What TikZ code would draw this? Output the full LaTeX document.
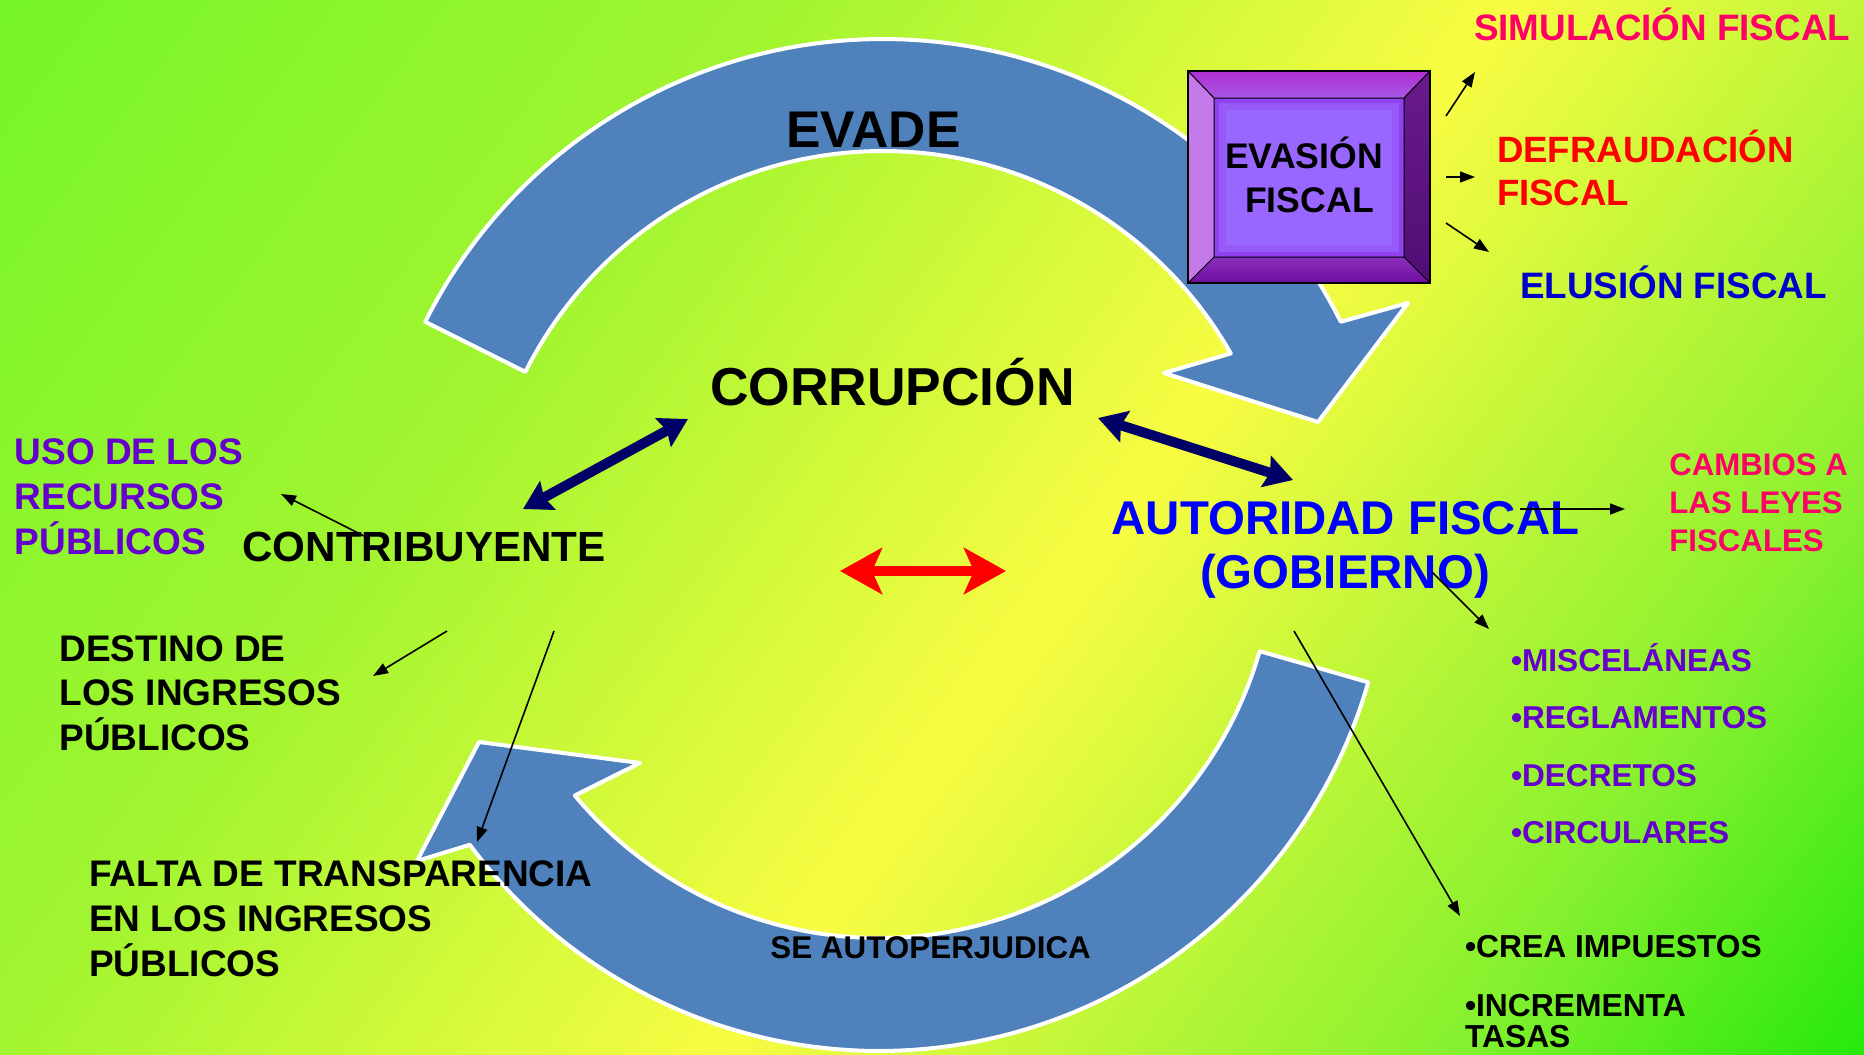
\documentclass[tikz,border=0pt]{standalone}
\usepackage{fontspec}
\setmainfont{Liberation Sans}
\usetikzlibrary{arrows.meta}
\definecolor{bgA}{RGB}{118,245,42}
\definecolor{bgB}{RGB}{162,245,48}
\definecolor{bgC}{RGB}{248,252,66}
\definecolor{bgD}{RGB}{130,240,46}
\definecolor{bgE}{RGB}{34,232,10}
\definecolor{arrowblue}{RGB}{79,129,189}
\definecolor{navy}{RGB}{0,0,102}
\definecolor{pinkred}{RGB}{255,0,102}
\definecolor{elublue}{RGB}{0,0,204}
\definecolor{autblue}{RGB}{0,0,255}
\definecolor{purp}{RGB}{102,0,204}
\definecolor{bvtopA}{RGB}{178,46,212}
\definecolor{bvtopB}{RGB}{166,88,230}
\definecolor{bvleft}{RGB}{196,122,232}
\definecolor{bvrightA}{RGB}{106,26,140}
\definecolor{bvrightB}{RGB}{80,14,116}
\definecolor{bvbotA}{RGB}{138,48,186}
\definecolor{bvbotB}{RGB}{110,14,160}
\definecolor{inEdge}{RGB}{144,64,238}
\definecolor{inMid}{RGB}{149,90,247}
\definecolor{inCen}{RGB}{153,102,255}
\newcommand\myfs[1]{\fontsize{#1pt}{#1pt}\selectfont\bfseries}
\begin{document}
\begin{tikzpicture}[x=0.5pt,y=-0.5pt,
  txt/.style={inner sep=0pt, outer sep=0pt, anchor=base west},
  bigarrow/.style={fill=arrowblue, draw=white, line width=2pt, line join=round},
  thin/.style={draw=black, line width=0.8pt, -{Triangle[length=7.5pt,width=5.5pt]}},
  navyarrow/.style={draw=navy, line width=5pt, {Stealth[length=14pt,width=16pt,inset=2pt]}-{Stealth[length=14pt,width=16pt,inset=2pt]}},
  redarrow/.style={draw=red, line width=5pt, {Stealth[length=21pt,width=23pt,inset=5pt]}-{Stealth[length=21pt,width=23pt,inset=5pt]}}]
\useasboundingbox (0,0) rectangle (1864,1055);
% background gradient
\begin{scope}
\clip (0,0) rectangle (1864,1055);
\begin{scope}[rotate=-36.9]
\foreach \s in {0,6,...,630}{\pgfmathtruncatemacro\p{\s/630*100}\fill[bgB!\p!bgA] (\s,-3000) rectangle (\s+7,3000);}
\foreach \s in {630,636,...,1200}{\pgfmathtruncatemacro\p{(\s-630)/570*100}\fill[bgC!\p!bgB] (\s,-3000) rectangle (\s+7,3000);}
\foreach \s in {1200,1206,...,1800}{\pgfmathtruncatemacro\p{(\s-1200)/600*100}\fill[bgD!\p!bgC] (\s,-3000) rectangle (\s+7,3000);}
\foreach \s in {1800,1806,...,2136}{\pgfmathtruncatemacro\p{min(100,(\s-1800)/330*100)}\fill[bgE!\p!bgD] (\s,-3000) rectangle (\s+7,3000);}
\end{scope}
\end{scope}
% top curved arrow (EVADE): circular band, centre (883,551)
\path[bigarrow] plot[domain=206.6:333.4, samples=90] ({883+512*cos(\x)},{551+512*sin(\x)})
  -- (1408,303) -- (1318,422) -- (1164,373)
  -- plot[domain=330.4:206.6, samples=90] ({883+400*cos(\x)},{551+400*sin(\x)}) -- cycle;
% bottom curved arrow (SE AUTOPERJUDICA): circular band, centre (879,542)
\path[bigarrow] ({879+509*cos(16)},{542+509*sin(16)})
  -- plot[domain=16:140.2, samples=90] ({879+396*cos(\x)},{542+396*sin(\x)})
  -- (640,763) -- (479,742) -- (417,861)
  -- plot[domain=143.5:16, samples=90] ({879+509*cos(\x)},{542+509*sin(\x)}) -- cycle;
% bevelled box
\shade[top color=bvtopA, bottom color=bvtopB] (1188,71) -- (1430,71) -- (1404,98) -- (1214,98) -- cycle;
\fill[bvleft] (1188,71) -- (1214,98) -- (1214,257) -- (1188,283) -- cycle;
\shade[top color=bvrightA, bottom color=bvrightB] (1430,71) -- (1404,98) -- (1404,257) -- (1430,283) -- cycle;
\shade[top color=bvbotA, bottom color=bvbotB] (1188,283) -- (1214,257) -- (1404,257) -- (1430,283) -- cycle;
\fill[inEdge] (1214,98) rectangle (1404,257);
\fill[inMid] (1219,103) rectangle (1399,252);
\fill[inCen] (1226,110) rectangle (1392,245);
\draw[line width=0.5pt] (1214,98) rectangle (1404,257)
  (1188,71) -- (1214,98) (1430,71) -- (1404,98) (1188,283) -- (1214,257) (1430,283) -- (1404,257);
\draw[line width=1pt] (1188,71) rectangle (1430,283);
% texts
\node[txt, anchor=base, font=\myfs{17.8}] (ev1) at (1304,168.3) {EVASIÓN};
\node[txt, anchor=base, font=\myfs{17.8}] (ev2) at (1309.5,212) {FISCAL};
\node[txt, font=\myfs{25.8}] (evade) at (786.5,147.3) {EVADE};
\node[txt, font=\myfs{26.7}] (corr) at (710,405) {CORRUPCIÓN};
\node[txt, font=\myfs{21.1}] (contrib) at (242.4,561) {CONTRIBUYENTE};
\node[txt, anchor=base, font=\myfs{23.7}, text=autblue] (aut1) at (1345.5,534.5) {AUTORIDAD FISCAL};
\node[txt, anchor=base, font=\myfs{23.7}, text=autblue] (aut2) at (1345,588) {(GOBIERNO)};
\node[txt, font=\myfs{15.7}] (seauto) at (770.4,958.3) {SE AUTOPERJUDICA};
\node[txt, font=\myfs{18.5}, text=purp] (uso1) at (14.7,464.3) {USO DE LOS};
\node[txt, font=\myfs{18.5}, text=purp] (uso2) at (14.7,509.3) {RECURSOS};
\node[txt, font=\myfs{18.5}, text=purp] (uso3) at (14.7,554) {PÚBLICOS};
\node[txt, font=\myfs{18.5}] (des1) at (59.4,661.7) {DESTINO DE};
\node[txt, font=\myfs{18.5}] (des2) at (59.4,705) {LOS INGRESOS};
\node[txt, font=\myfs{18.5}] (des3) at (59.4,750.7) {PÚBLICOS};
\node[txt, font=\myfs{18.5}] (fal1) at (89,886.7) {FALTA DE TRANSPARENCIA};
\node[txt, font=\myfs{18.5}] (fal2) at (89,931.7) {EN LOS INGRESOS};
\node[txt, font=\myfs{18.5}] (fal3) at (89,976.7) {PÚBLICOS};
\node[txt, font=\myfs{15.6}, text=pinkred] (cam1) at (1669.4,475.2) {CAMBIOS A};
\node[txt, font=\myfs{15.6}, text=pinkred] (cam2) at (1669.4,513.6) {LAS LEYES};
\node[txt, font=\myfs{15.6}, text=pinkred] (cam3) at (1669.4,551.2) {FISCALES};
\node[txt, font=\myfs{15.8}, text=purp] (b1) at (1511,671.5) {•MISCELÁNEAS};
\node[txt, font=\myfs{15.8}, text=purp] (b2) at (1511,728.7) {•REGLAMENTOS};
\node[txt, font=\myfs{15.8}, text=purp] (b3) at (1511,786.4) {•DECRETOS};
\node[txt, font=\myfs{15.8}, text=purp] (b4) at (1511,843.6) {•CIRCULARES};
\node[txt, font=\myfs{15.9}] (cr1) at (1465,957.6) {•CREA IMPUESTOS};
\node[txt, font=\myfs{15.9}] (cr2) at (1465,1016) {•INCREMENTA};
\node[txt, font=\myfs{15.9}] (cr3) at (1465,1047) {TASAS};
\node[txt, font=\myfs{18.4}, text=pinkred] (sim) at (1474,40.7) {SIMULACIÓN FISCAL};
\node[txt, font=\myfs{18.3}, text=red] (def1) at (1497,162.3) {DEFRAUDACIÓN};
\node[txt, font=\myfs{18.3}, text=red] (def2) at (1497,205.7) {FISCAL};
\node[txt, font=\myfs{18.4}, text=elublue] (elu) at (1520,298.3) {ELUSIÓN FISCAL};
% connector end points
\coordinate (a1s) at (1446,116); \coordinate (a1e) at (1475,72);
\coordinate (a2s) at (1446,177); \coordinate (a2e) at (1475,177);
\coordinate (a3s) at (1446,223); \coordinate (a3e) at (1489,252);
\coordinate (uS) at (370,539); \coordinate (uE) at (281,494);
\coordinate (dS) at (447,631); \coordinate (dE) at (373,676);
\coordinate (fS) at (554,631); \coordinate (fE) at (477,842);
\coordinate (cS) at (1520,509); \coordinate (cE) at (1625,509);
\coordinate (mS) at (1432,572); \coordinate (mE) at (1489,629);
\coordinate (iS) at (1294,631); \coordinate (iE) at (1460,916);
\coordinate (n1a) at (523,509); \coordinate (n1b) at (688,419);
\coordinate (n2a) at (1098,418); \coordinate (n2b) at (1293,480);
\coordinate (r1) at (840,571); \coordinate (r2) at (1006,571);
% connectors
\draw[thin] (a1s) -- (a1e);
\draw[thin] (a2s) -- (a2e);
\draw[thin] (a3s) -- (a3e);
\draw[thin] (uS) -- (uE);
\draw[thin] (dS) -- (dE);
\draw[thin] (fS) -- (fE);
\draw[thin] (cS) -- (cE);
\draw[thin] (mS) -- (mE);
\draw[thin] (iS) -- (iE);
\draw[navyarrow] (n1a) -- (n1b);
\draw[navyarrow] (n2a) -- (n2b);
\draw[redarrow] (r1) -- (r2);
\end{tikzpicture}
\end{document}
